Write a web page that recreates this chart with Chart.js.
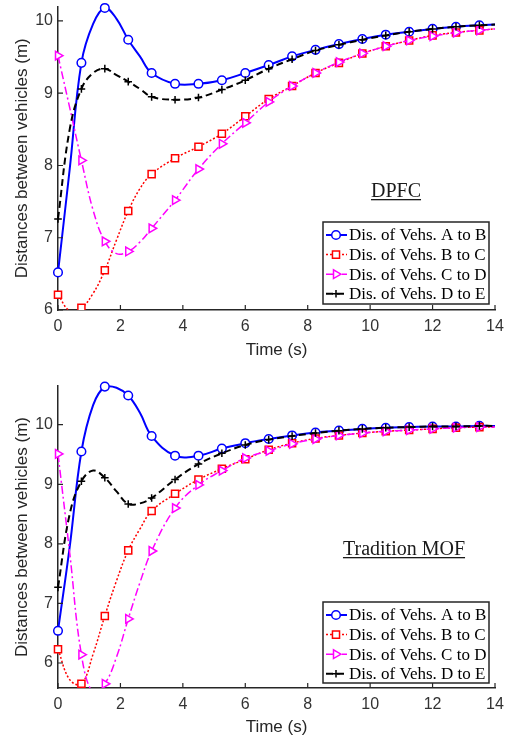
<!DOCTYPE html>
<html lang="en">
<head>
    <meta charset="UTF-8">
    <title>Distances between vehicles</title>
    <script src="https://cdn.jsdelivr.net/npm/chart.js"></script>
    <style>
        body { margin: 0; background: #fff; }
        canvas { position: absolute; left: 0; }
        #chartDPFC { top: 0; }
        #chartMOF { top: 370px; }
    </style>
</head>
<body>
    <canvas id="chartDPFC" width="507" height="370"></canvas>
    <canvas id="chartMOF" width="507" height="370"></canvas>

    <script>
        // sample times (s); markers sit on the 0.75 s grid only
        const times = [0, 0.375, 0.75, 1.125, 1.5, 1.875, 2.25, 2.625, 3, 3.75, 4.5, 5.25, 6, 6.75, 7.5, 8.25, 9, 9.75, 10.5, 11.25, 12, 12.75, 13.5, 14];
        const markTimes = [0, 0.75, 1.5, 2.25, 3, 3.75, 4.5, 5.25, 6, 6.75, 7.5, 8.25, 9, 9.75, 10.5, 11.25, 12, 12.75, 13.5];
        const xTicks = [0, 2, 4, 6, 8, 10, 12, 14];
        const yTicks = [6, 7, 8, 9, 10];
        const seriesNames = ['Dis. of Vehs. A to B', 'Dis. of Vehs. B to C', 'Dis. of Vehs. C to D', 'Dis. of Vehs. D to E'];

        // DPFC distances (m)
        const dpfcAB = [6.52, 7.95, 9.42, 9.96, 10.18, 10.03, 9.74, 9.51, 9.28, 9.13, 9.13, 9.18, 9.28, 9.39, 9.51, 9.60, 9.68, 9.75, 9.81, 9.85, 9.89, 9.92, 9.94, 9.95];
        const dpfcBC = [6.21, 5.99, 6.03, 6.23, 6.55, 6.97, 7.37, 7.68, 7.88, 8.10, 8.26, 8.44, 8.68, 8.92, 9.10, 9.28, 9.42, 9.55, 9.65, 9.73, 9.80, 9.84, 9.87, 9.89];
        const dpfcCD = [9.52, 8.80, 8.07, 7.38, 6.95, 6.78, 6.81, 6.94, 7.13, 7.52, 7.95, 8.30, 8.59, 8.88, 9.10, 9.28, 9.43, 9.55, 9.65, 9.73, 9.79, 9.84, 9.87, 9.89];
        const dpfcDE = [7.26, 8.50, 9.06, 9.28, 9.34, 9.25, 9.16, 9.06, 8.95, 8.91, 8.94, 9.05, 9.18, 9.34, 9.47, 9.59, 9.67, 9.74, 9.80, 9.85, 9.89, 9.92, 9.94, 9.95];

        // Tradition MOF distances (m)
        const mofAB = [6.54, 7.95, 9.55, 10.33, 10.64, 10.62, 10.49, 10.20, 9.81, 9.48, 9.48, 9.60, 9.69, 9.76, 9.82, 9.87, 9.90, 9.93, 9.95, 9.96, 9.97, 9.97, 9.98, 9.98];
        const mofBC = [6.23, 5.72, 5.65, 6.15, 6.79, 7.38, 7.89, 8.25, 8.55, 8.84, 9.08, 9.26, 9.42, 9.58, 9.69, 9.77, 9.82, 9.86, 9.89, 9.91, 9.93, 9.95, 9.96, 9.96];
        const mofCD = [9.51, 7.85, 6.14, 5.50, 5.65, 6.10, 6.74, 7.35, 7.88, 8.60, 8.99, 9.23, 9.44, 9.56, 9.68, 9.76, 9.82, 9.86, 9.89, 9.91, 9.93, 9.95, 9.96, 9.96];
        const mofDE = [7.27, 8.50, 9.05, 9.23, 9.11, 8.88, 8.67, 8.68, 8.77, 9.08, 9.34, 9.52, 9.66, 9.75, 9.81, 9.86, 9.90, 9.93, 9.95, 9.96, 9.97, 9.97, 9.98, 9.98];

        const lineStyles = [
            { color: '#0000ff', dash: [], width: 2, point: 'circle', radius: 4.3, rotation: 0, order: 4 },
            { color: '#ff0000', dash: [2, 2], width: 1.5, point: 'rect', radius: 5, rotation: 0, order: 3 },
            { color: '#ff00ff', dash: [8, 3, 2, 3], width: 1.5, point: 'triangle', radius: 5, rotation: 90, order: 2 },
            { color: '#000000', dash: [7, 4], width: 2, point: 'cross', radius: 3.8, rotation: 0, order: 1 }
        ];

        const axisColor = '#262626';
        const tickFont = { family: '"Liberation Sans", Arial, sans-serif', size: 16 };
        const titleFont = { family: '"Liberation Sans", Arial, sans-serif', size: 17 };

        // inward ticks, boxed legend and underlined caption
        const matlabDecor = {
            id: 'matlabDecor',
            afterDatasetsDraw(chart, args, opts) {
                const { ctx, chartArea: a, scales: { x, y } } = chart;
                ctx.save();
                ctx.strokeStyle = axisColor;
                ctx.lineWidth = 1.2;
                ctx.beginPath();
                xTicks.forEach(v => {
                    const px = x.getPixelForValue(v);
                    ctx.moveTo(px, a.bottom);
                    ctx.lineTo(px, a.bottom - 5);
                });
                yTicks.forEach(v => {
                    const py = y.getPixelForValue(v);
                    if (py < a.top || py > a.bottom) return;
                    ctx.moveTo(a.left, py);
                    ctx.lineTo(a.left + 5, py);
                });
                ctx.stroke();

                // caption
                ctx.font = '20px "Liberation Serif", "Times New Roman", serif';
                ctx.fillStyle = '#1a1a1a';
                ctx.textAlign = 'center';
                ctx.textBaseline = 'alphabetic';
                ctx.fillText(opts.caption, opts.captionX, opts.captionY);
                const w = ctx.measureText(opts.caption).width;
                ctx.fillRect(opts.captionX - w / 2, opts.captionY + 2, w, 1.3);

                // legend
                const L = opts.legend;
                ctx.fillStyle = '#fff';
                ctx.fillRect(L.left, L.top, L.right - L.left, L.bottom - L.top);
                ctx.lineWidth = 1.5;
                ctx.strokeStyle = axisColor;
                ctx.strokeRect(L.left, L.top, L.right - L.left, L.bottom - L.top);
                ctx.font = '17px "Liberation Serif", "Times New Roman", serif';
                chart.data.datasets.forEach((ds, i) => {
                    const st = lineStyles[i];
                    const yy = L.top + 13 + i * 19.6;
                    ctx.setLineDash(st.dash);
                    ctx.strokeStyle = st.color;
                    ctx.lineWidth = st.width;
                    ctx.beginPath();
                    ctx.moveTo(L.left + 3, yy);
                    ctx.lineTo(L.left + 24, yy);
                    ctx.stroke();
                    ctx.setLineDash([]);
                    ctx.fillStyle = '#fff';
                    ctx.lineWidth = 1.5;
                    Chart.helpers.drawPoint(ctx, {
                        pointStyle: st.point, rotation: st.rotation, radius: st.radius, borderWidth: 1.5
                    }, L.left + 13, yy);
                    ctx.fillStyle = '#000';
                    ctx.textAlign = 'left';
                    ctx.textBaseline = 'middle';
                    ctx.fillText(ds.label, L.left + 26, yy + 1);
                });
                ctx.restore();
            }
        };

        function makeChart(id, series, yMin, yMax, frame, decor) {
            const datasets = series.map((vals, i) => {
                const st = lineStyles[i];
                return {
                    label: seriesNames[i],
                    data: times.map((t, k) => ({ x: t, y: vals[k] })),
                    borderColor: st.color,
                    borderWidth: st.width,
                    borderDash: st.dash,
                    tension: 0.4,
                    pointStyle: st.point,
                    pointRotation: st.rotation,
                    pointRadius: c => markTimes.includes(c.raw.x) ? st.radius : 0,
                    pointBorderColor: st.color,
                    pointBackgroundColor: '#fff',
                    pointBorderWidth: 1.5,
                    order: st.order,
                    clip: { left: 6, right: 6, top: 6, bottom: 0 }
                };
            });

            return new Chart(document.getElementById(id), {
                type: 'line',
                data: { datasets: datasets },
                options: {
                    responsive: false,
                    animation: false,
                    events: [],
                    layout: { padding: { top: frame.top, right: 12, left: 0, bottom: 0 } },
                    plugins: {
                        legend: { display: false },
                        tooltip: { enabled: false },
                        matlabDecor: decor
                    },
                    scales: {
                        x: {
                            type: 'linear',
                            min: 0,
                            max: 14,
                            afterBuildTicks: s => { s.ticks = xTicks.map(v => ({ value: v })); },
                            afterFit: s => { s.height = frame.xHeight; s.paddingLeft = 0; s.paddingRight = 0; },
                            grid: { display: true, drawOnChartArea: false, drawTicks: false },
                            border: { color: axisColor, width: 1.5 },
                            ticks: { font: tickFont, color: '#333', padding: 7, maxRotation: 0 },
                            title: { display: true, text: 'Time (s)', font: titleFont, color: axisColor, padding: { top: 0, bottom: frame.titlePad } }
                        },
                        y: {
                            min: yMin,
                            max: yMax,
                            afterBuildTicks: s => { s.ticks = yTicks.map(v => ({ value: v })); },
                            afterFit: s => { s.width = 58; s.paddingTop = 0; s.paddingBottom = 0; },
                            grid: { display: true, drawOnChartArea: false, drawTicks: false },
                            border: { color: axisColor, width: 1.5 },
                            ticks: { font: tickFont, color: '#333', padding: 5 },
                            title: { display: true, text: 'Distances between vehicles (m)', font: titleFont, color: axisColor, padding: { top: 12, bottom: 0 } }
                        }
                    }
                },
                plugins: [matlabDecor]
            });
        }

        makeChart('chartDPFC', [dpfcAB, dpfcBC, dpfcCD, dpfcDE], 6, 10.2,
            { top: 5.5, xHeight: 60, titlePad: 9 },
            { caption: 'DPFC', captionX: 396, captionY: 197, legend: { left: 323, top: 222, right: 489, bottom: 304 } });

        makeChart('chartMOF', [mofAB, mofBC, mofCD, mofDE], 5.58, 10.65,
            { top: 16, xHeight: 52, titlePad: 2 },
            { caption: 'Tradition MOF', captionX: 404, captionY: 185, legend: { left: 323, top: 232, right: 489, bottom: 313 } });
    </script>
</body>
</html>
